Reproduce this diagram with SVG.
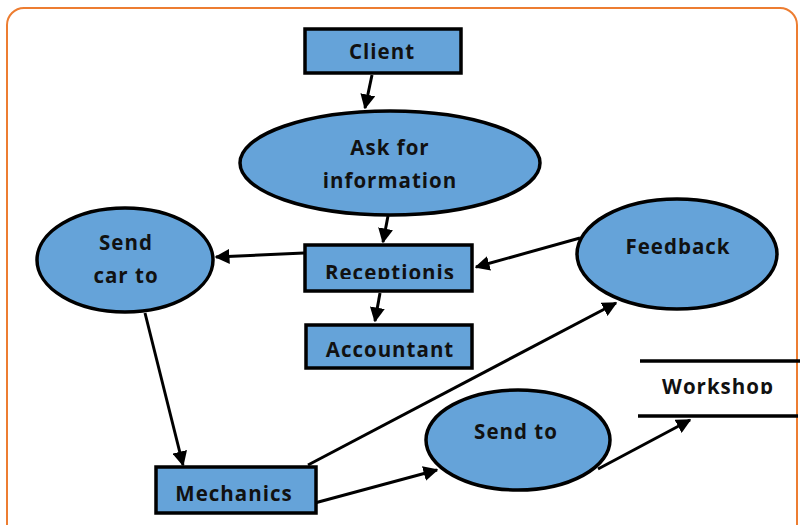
<svg xmlns="http://www.w3.org/2000/svg" width="802" height="525" viewBox="0 0 802 525">
<style>
.n{fill:#65a3d9;stroke:#000;stroke-width:3.5}
.t{font-family:"Open Sans",Lato,sans-serif;font-weight:bold;font-size:20.5px;letter-spacing:1px;fill:#111;text-anchor:middle}
.c{stroke:#000;stroke-width:3;fill:none;marker-end:url(#ah)}
</style>
<defs>
<marker id="ah" viewBox="0 0 10 10" refX="9" refY="5" markerWidth="5" markerHeight="5" orient="auto" markerUnits="strokeWidth">
<path d="M0,0 L10,5 L0,10 z" fill="#000"/>
</marker>
<clipPath id="cr"><rect x="300" y="240" width="180" height="39"/></clipPath>
<clipPath id="cw"><rect x="630" y="362" width="175" height="32"/></clipPath>
</defs>
<rect x="7" y="8" width="790" height="540" rx="17" fill="#fff" stroke="#ed7d31" stroke-width="2"/>
<g id="connectors">
<line class="c" x1="372" y1="75" x2="365" y2="108"/>
<line class="c" x1="388" y1="216" x2="383" y2="242"/>
<line class="c" x1="380" y1="293" x2="375" y2="321"/>
<line class="c" x1="304" y1="253" x2="216" y2="257"/>
<line class="c" x1="580" y1="238" x2="476" y2="267"/>
<line class="c" x1="145" y1="313" x2="183" y2="465"/>
<line class="c" x1="308" y1="465" x2="616" y2="303"/>
<line class="c" x1="311" y1="504" x2="437" y2="470"/>
<line class="c" x1="598" y1="469" x2="690" y2="420"/>
</g>
<g id="client"><rect class="n" x="305" y="29" width="156" height="44"/><text class="t" x="382" y="59">Client</text></g>
<g id="ask"><ellipse class="n" cx="390" cy="163" rx="150" ry="52"/><text class="t" x="390" y="155">Ask for</text><text class="t" x="390" y="188">information</text></g>
<g id="receptionis"><rect class="n" x="305" y="245" width="167" height="46"/><text class="t" x="390" y="280" clip-path="url(#cr)">Receptionis</text></g>
<g id="accountant"><rect class="n" x="306" y="325" width="166" height="43"/><text class="t" x="390" y="357">Accountant</text></g>
<g id="sendcar"><ellipse class="n" cx="125" cy="260" rx="88" ry="52"/><text class="t" x="126" y="250">Send</text><text class="t" x="126" y="283">car to</text></g>
<g id="feedback"><ellipse class="n" cx="677" cy="254" rx="100" ry="55"/><text class="t" x="678" y="254">Feedback</text></g>
<g id="mechanics"><rect class="n" x="156" y="467" width="160" height="46"/><text class="t" x="234" y="501">Mechanics</text></g>
<g id="sendto"><ellipse class="n" cx="518" cy="440" rx="92" ry="50"/><text class="t" x="516" y="439">Send to</text></g>
<g id="workshop"><line x1="640" y1="361" x2="800" y2="361" stroke="#000" stroke-width="3.5"/><line x1="638" y1="416" x2="798" y2="416" stroke="#000" stroke-width="3.5"/><text class="t" x="718" y="394" clip-path="url(#cw)">Workshop</text></g>
</svg>
